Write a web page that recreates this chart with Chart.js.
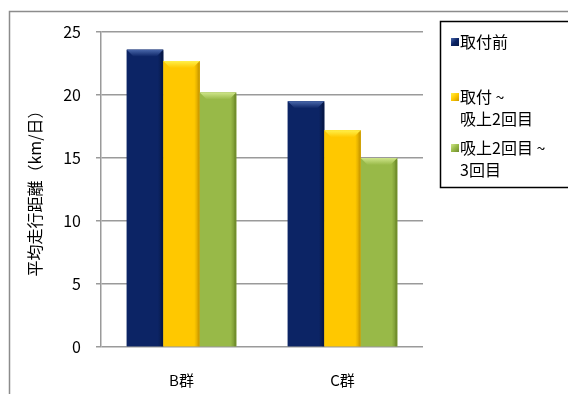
<!DOCTYPE html>
<html>
<head>
<meta charset="utf-8">
<script src="https://cdn.jsdelivr.net/npm/chart.js@4.4.1/dist/chart.umd.min.js"></script>
<style>
  html, body { margin: 0; padding: 0; background: #fff; }
  #wrap { width: 568px; height: 394px; }
</style>
</head>
<body>
<div id="wrap"><canvas id="distChart" width="568" height="394"></canvas></div>
<script>
const FONT = '"Noto Sans CJK JP", "Noto Sans", sans-serif';

// groups and average daily distance per period
const categories = ['B群', 'C群'];
const seriesNames = [['取付前', ''], ['取付 ~', '吸上2回目'], ['吸上2回目 ~', '3回目']];
const beforeFit = [23.6, 19.5];
const fitToSecond = [22.7, 17.2];
const secondToThird = [20.2, 15.0];
const yTicks = [0, 5, 10, 15, 20, 25];

// base / light / dark shade for each series
const shades = [
  { base: '#0c2465', light: '#4a68ab', dark: '#061846' },
  { base: '#ffc800', light: '#fff04a', dark: '#c99a00' },
  { base: '#98b948', light: '#cfe58a', dark: '#6f8c2c' }
];

// outer frame of the chart object
const framePlugin = {
  id: 'frame',
  beforeDraw(chart) {
    const ctx = chart.ctx;
    ctx.save();
    ctx.strokeStyle = '#8c8c8c';
    ctx.lineWidth = 1.5;
    ctx.strokeRect(9.5, 11.5, 700, 500);
    ctx.restore();
  }
};

// bevelled look on top of the plain bars
const bevelPlugin = {
  id: 'bevel',
  afterDatasetsDraw(chart) {
    const ctx = chart.ctx;
    chart.data.datasets.forEach((ds, i) => {
      const s = shades[i];
      chart.getDatasetMeta(i).data.forEach(bar => {
        const l = bar.x - bar.width / 2, r = bar.x + bar.width / 2;
        const t = bar.y, b = bar.base;
        ctx.save();
        // horizontal shading
        const g = ctx.createLinearGradient(l, 0, r, 0);
        g.addColorStop(0, s.base);
        g.addColorStop(0.85, s.base);
        g.addColorStop(1, s.dark);
        ctx.fillStyle = g;
        ctx.fillRect(l, t, r - l, b - t);
        // top bevel
        const bv = 7;
        const tg = ctx.createLinearGradient(0, t, 0, t + bv);
        tg.addColorStop(0, s.light);
        tg.addColorStop(1, s.base);
        ctx.fillStyle = tg;
        ctx.beginPath();
        ctx.moveTo(l, t);
        ctx.lineTo(r, t);
        ctx.lineTo(r - bv, t + bv);
        ctx.lineTo(l + bv, t + bv);
        ctx.closePath();
        ctx.fill();
        // right edge
        ctx.fillStyle = s.dark;
        ctx.globalAlpha = 0.6;
        ctx.fillRect(r - 2, t + 2, 2, b - t - 2);
        ctx.restore();
      });
    });
  }
};

// boxed legend on the right
const legendPlugin = {
  id: 'boxLegend',
  afterDraw(chart) {
    const ctx = chart.ctx;
    const bx = 440, by = 21;
    ctx.save();
    ctx.fillStyle = '#fff';
    ctx.fillRect(bx, by, 140, 166);
    ctx.strokeStyle = '#000';
    ctx.lineWidth = 1.5;
    ctx.strokeRect(bx + 0.5, by + 0.5, 140, 166);
    ctx.font = '16px ' + FONT;
    ctx.textBaseline = 'middle';
    const lineH = 22;
    let y = by + 21;
    chart.data.datasets.forEach((ds, i) => {
      const s = shades[i];
      const g = ctx.createLinearGradient(451, y - 4, 459, y + 4);
      g.addColorStop(0, s.light);
      g.addColorStop(0.5, s.base);
      g.addColorStop(1, s.dark);
      ctx.fillStyle = g;
      ctx.fillRect(451, y - 4, 8, 8);
      ctx.fillStyle = '#000';
      ds.label.forEach((line, k) => {
        ctx.fillText(line, 460, y + k * lineH);
      });
      y += ds.label.length * lineH + (i === 0 ? 11 : 7);
    });
    ctx.restore();
  }
};

new Chart(document.getElementById('distChart'), {
  type: 'bar',
  data: {
    labels: categories,
    datasets: [
      { label: seriesNames[0], data: beforeFit, backgroundColor: shades[0].base },
      { label: seriesNames[1], data: fitToSecond, backgroundColor: shades[1].base },
      { label: seriesNames[2], data: secondToThird, backgroundColor: shades[2].base }
    ]
  },
  options: {
    responsive: false,
    animation: false,
    devicePixelRatio: 1,
    datasets: { bar: { categoryPercentage: 0.68, barPercentage: 1 } },
    layout: { padding: { left: 0, top: 32, right: 145, bottom: 0 } },
    plugins: {
      legend: { display: false },
      tooltip: { enabled: false }
    },
    scales: {
      x: {
        grid: { display: false },
        border: { display: false },
        ticks: { color: '#000', font: { family: FONT, size: 15 }, padding: 16 },
        afterFit(scale) { scale.height = 47; }
      },
      y: {
        min: 0,
        max: 25,
        afterBuildTicks(scale) { scale.ticks = yTicks.map(v => ({ value: v })); },
        grid: { color: '#9a9a9a', lineWidth: 1.5, tickLength: 5 },
        border: { color: '#9a9a9a', width: 1.5 },
        ticks: { color: '#000', font: { family: FONT, size: 16 }, padding: 15 },
        title: {
          display: true,
          text: '平均走行距離（km/日）',
          color: '#000',
          font: { family: FONT, size: 16 },
          padding: { top: 25, bottom: 0 }
        },
        afterFit(scale) { scale.width = 101; }
      }
    }
  },
  plugins: [framePlugin, bevelPlugin, legendPlugin]
});
</script>
</body>
</html>
